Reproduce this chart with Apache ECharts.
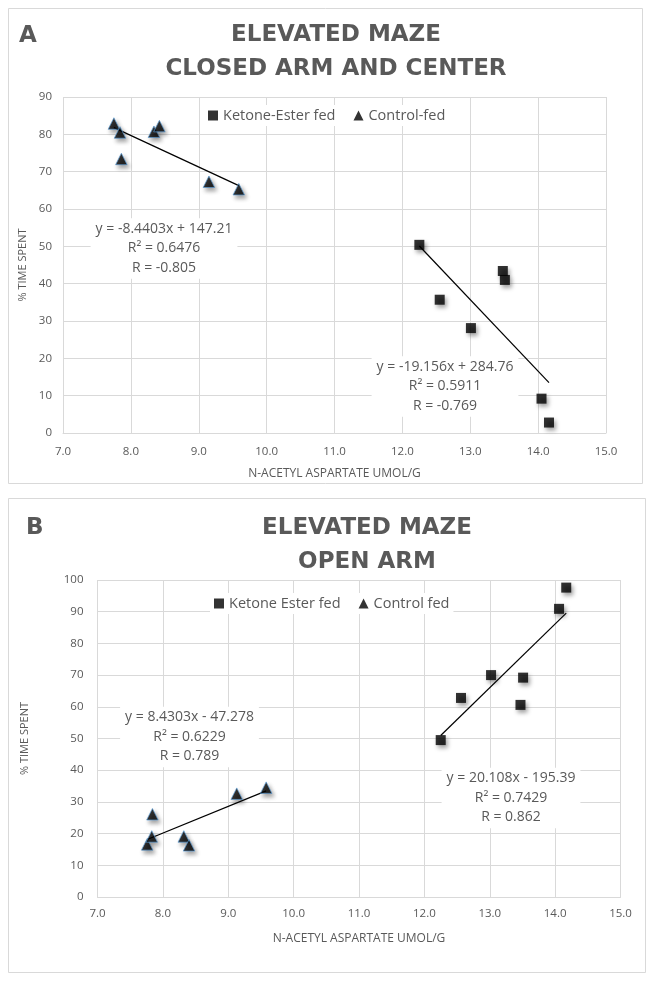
<!DOCTYPE html>
<html>
<head>
<meta charset="utf-8">
<script src="https://cdn.jsdelivr.net/npm/echarts@6/dist/echarts.min.js"></script>
<style>
html,body{margin:0;padding:0;background:#fff;}
#c{width:654px;height:982px;}
</style>
</head>
<body>
<div id="c"></div>
<script>
// ---- Data ----
var xTicks = [7, 8, 9, 10, 11, 12, 13, 14, 15];

// Panel A: closed arm and center
var ketoneX_A = [12.25, 12.55, 13.01, 13.48, 13.51, 14.05, 14.16];
var ketoneY_A = [50.4, 35.7, 28.1, 43.4, 41.0, 9.2, 2.8];
var controlX_A = [7.75, 7.84, 7.86, 8.34, 8.42, 9.15, 9.59];
var controlY_A = [82.9, 80.5, 73.4, 80.7, 82.2, 67.3, 65.3];

// Panel B: open arm
var ketoneX_B = [12.25, 12.56, 13.02, 13.47, 13.51, 14.06, 14.17];
var ketoneY_B = [49.5, 62.8, 70.0, 60.6, 69.2, 90.9, 97.6];
var controlX_B = [7.76, 7.83, 7.84, 8.32, 8.40, 9.13, 9.58];
var controlY_B = [16.6, 19.1, 26.1, 19.1, 16.3, 32.6, 34.5];

// Trendline equations (slope, intercept) as printed on the chart
var trendA_control = [-8.4403, 147.21];
var trendA_ketone = [-19.156, 284.76];
var trendB_control = [8.4303, -47.278];
var trendB_ketone = [20.108, -195.39];

// Equation text
var eqA_control = ['y = -8.4403x + 147.21', 'R\u00B2 = 0.6476', 'R = -0.805'];
var eqA_ketone = ['y = -19.156x + 284.76', 'R\u00B2 = 0.5911', 'R = -0.769'];
var eqB_control = ['y = 8.4303x - 47.278', 'R\u00B2 = 0.6229', 'R = 0.789'];
var eqB_ketone = ['y = 20.108x - 195.39', 'R\u00B2 = 0.7429', 'R = 0.862'];

var legendA = ['Ketone-Ester fed', 'Control-fed'];
var legendB = ['Ketone Ester fed', 'Control fed'];
var titleA = ['ELEVATED MAZE', 'CLOSED ARM AND CENTER'];
var titleB = ['ELEVATED MAZE', 'OPEN ARM'];
var xName = 'N-ACETYL ASPARTATE UMOL/G';
var yName = '% TIME SPENT';

// ---- helpers ----
function pairs(xs, ys) { return xs.map(function (x, i) { return [x, ys[i]]; }); }
function trend(coef, xs) {
  var lo = Math.min.apply(null, xs), hi = Math.max.apply(null, xs);
  return [[lo, coef[0] * lo + coef[1]], [hi, coef[0] * hi + coef[1]]];
}

var TXT = '#595959';
var GRIDC = '#d9d9d9';
var FONT = '"Open Sans", "Liberation Sans", sans-serif';

function xAxisCfg(gi, labelMargin, nameGap) {
  return {
    type: 'value', gridIndex: gi, min: 7, max: 15, interval: 1,
    axisLine: { show: true, lineStyle: { color: GRIDC, width: 1 } },
    axisTick: { show: false },
    axisLabel: { color: TXT, fontSize: 11.5, fontFamily: FONT, margin: labelMargin,
      formatter: function (v) { return v.toFixed(1); } },
    splitLine: { show: true, lineStyle: { color: GRIDC, width: 1 } },
    name: xName, nameLocation: 'middle', nameGap: nameGap,
    nameTextStyle: { color: TXT, fontSize: 12, fontFamily: FONT }
  };
}
function yAxisCfg(gi, max, labelMargin, nameGap) {
  return {
    type: 'value', gridIndex: gi, min: 0, max: max, interval: 10,
    axisLine: { show: false }, axisTick: { show: false },
    axisLabel: { color: TXT, fontSize: 11.5, fontFamily: FONT, margin: labelMargin },
    splitLine: { show: true, lineStyle: { color: GRIDC, width: 1 } },
    name: yName, nameLocation: 'middle', nameGap: nameGap, nameRotate: 90,
    nameTextStyle: { color: TXT, fontSize: 11, fontFamily: FONT }
  };
}

var squareStyle = { color: '#000', shadowColor: 'rgba(0,0,0,0.45)', shadowBlur: 4, shadowOffsetX: 2, shadowOffsetY: 3 };
var triStyle = { color: '#000', borderColor: 'rgba(91,155,213,0.85)', borderWidth: 1,
  shadowColor: 'rgba(0,0,0,0.45)', shadowBlur: 4, shadowOffsetX: 2, shadowOffsetY: 3 };

function scatter(name, xi, data, sym, style, size) {
  return { type: 'scatter', name: name, xAxisIndex: xi, yAxisIndex: xi, data: data,
    symbol: sym, symbolSize: size, itemStyle: style, z: 5, silent: true };
}
function tline(xi, data) {
  return { type: 'line', xAxisIndex: xi, yAxisIndex: xi, data: data, symbol: 'none',
    lineStyle: { color: '#000', width: 1.2 }, z: 4, silent: true, animation: false };
}

function eqText(lines, cx, cy) {
  return { type: 'text', x: cx, y: cy, z: 100,
    style: { text: lines.join('\n'), fill: TXT, font: '14px ' + FONT, align: 'center',
      verticalAlign: 'middle', lineHeight: 19.5, backgroundColor: '#fff', padding: [1, 5] } };
}
function titleText(lines, cx, cy) {
  return { type: 'text', x: cx, y: cy, z: 100,
    style: { text: lines.join('\n'), fill: TXT, font: 'bold 23px "DejaVu Sans", sans-serif', align: 'center',
      verticalAlign: 'middle', lineHeight: 34 } };
}
function letterText(t, x, cy) {
  return { type: 'text', x: x, y: cy, z: 100,
    style: { text: t, fill: TXT, font: 'bold 23px "DejaVu Sans", sans-serif', align: 'left', verticalAlign: 'middle' } };
}

var legendItemStyle = { color: '#000', borderWidth: 0, shadowBlur: 0, shadowOffsetX: 0, shadowOffsetY: 0, shadowColor: 'transparent' };

var chart = echarts.init(document.getElementById('c'), null, { renderer: 'canvas' });
chart.setOption({
  animation: false,
  backgroundColor: '#fff',
  grid: [
    { left: 63, top: 97, width: 543, height: 336 },
    { left: 97.5, top: 580, width: 523, height: 317 }
  ],
  xAxis: [xAxisCfg(0, 13, 35), xAxisCfg(1, 11, 36)],
  yAxis: [yAxisCfg(0, 90, 11, 33), yAxisCfg(1, 100, 14, 67)],
  legend: [
    { data: legendA, left: 204, top: 105, itemWidth: 10, itemHeight: 10, itemGap: 18,
      backgroundColor: '#fff', padding: [3, 4], itemStyle: legendItemStyle,
      textStyle: { color: TXT, fontSize: 14.5, fontFamily: FONT }, selectedMode: false },
    { data: legendB, left: 210, top: 593, itemWidth: 10, itemHeight: 10, itemGap: 18,
      backgroundColor: '#fff', padding: [3, 4], itemStyle: legendItemStyle,
      textStyle: { color: TXT, fontSize: 14.5, fontFamily: FONT }, selectedMode: false }
  ],
  series: [
    scatter(legendA[0], 0, pairs(ketoneX_A, ketoneY_A), 'rect', squareStyle, 10),
    scatter(legendA[1], 0, pairs(controlX_A, controlY_A), 'triangle', triStyle, 11.5),
    tline(0, trend(trendA_control, controlX_A)),
    tline(0, trend(trendA_ketone, ketoneX_A)),
    scatter(legendB[0], 1, pairs(ketoneX_B, ketoneY_B), 'rect', squareStyle, 10),
    scatter(legendB[1], 1, pairs(controlX_B, controlY_B), 'triangle', triStyle, 11.5),
    tline(1, trend(trendB_control, controlX_B)),
    tline(1, trend(trendB_ketone, ketoneX_B))
  ],
  graphic: [
    { type: 'rect', shape: { x: 8.5, y: 8.5, width: 634, height: 475 }, style: { fill: 'none', stroke: GRIDC, lineWidth: 1 }, z: 0 },
    { type: 'rect', shape: { x: 8.5, y: 498.5, width: 637, height: 474 }, style: { fill: 'none', stroke: GRIDC, lineWidth: 1 }, z: 0 },
    letterText('A', 19, 36),
    titleText(titleA, 336, 52),
    letterText('B', 26, 528),
    titleText(titleB, 367, 545),
    eqText(eqA_control, 164, 248.5),
    eqText(eqA_ketone, 445, 386.5),
    eqText(eqB_control, 189.5, 737),
    eqText(eqB_ketone, 511, 798)
  ]
});
</script>
</body>
</html>
